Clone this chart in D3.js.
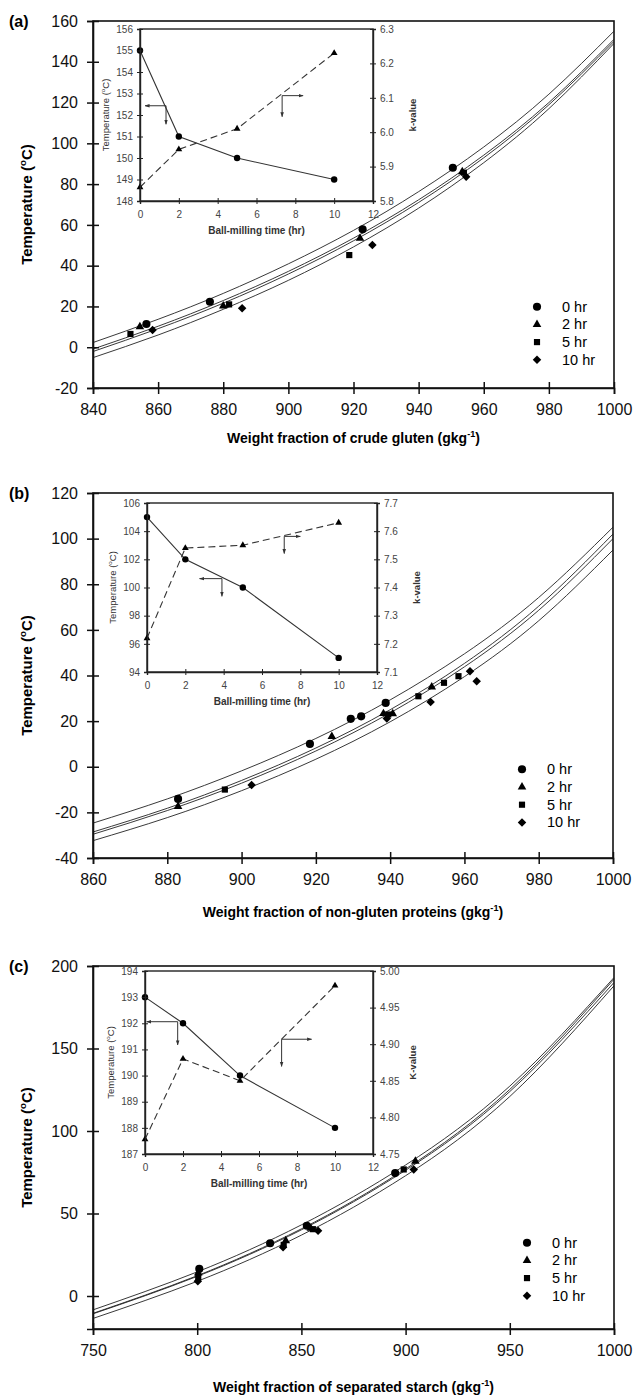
<!DOCTYPE html>
<html>
<head>
<meta charset="utf-8">
<script src="https://cdn.jsdelivr.net/npm/d3@7"></script>
<style>
body { margin: 0; background: #fff; }
text { font-family: Arial, "Liberation Sans", sans-serif; }
</style>
</head>
<body>
<div id="chart"></div>
<script>
// ---- data ----
var timeHr = [0, 2, 5, 10];
var seriesLabels = ["0 hr", "2 hr", "5 hr", "10 hr"];

// (a) crude gluten
var aInsetTemp = [155, 151, 150, 149];
var aInsetK = [5.84, 5.95, 6.01, 6.23];
var aFitX = [840, 860, 880, 900, 920, 940, 960, 980, 1000];
var aFit0 = [2.3, 13.7, 26.4, 40.9, 57.3, 76.3, 98.2, 124.1, 155];
var aFit2 = [-0.9, 10.3, 22.9, 37.2, 53.5, 72.3, 94.2, 120.0, 151];
var aFit5 = [-2.1, 9.1, 21.6, 35.9, 52.2, 71.0, 92.9, 118.9, 150];
var aFit10 = [-5.1, 6.0, 18.6, 32.8, 49.2, 68.2, 90.5, 117.0, 149];
var aPts0 = [[856.4, 11.4], [875.9, 22.3], [922.8, 57.8], [950.5, 88]];
var aPts2 = [[854.4, 10], [880, 20.2], [922, 53.4], [953.4, 86.1]];
var aPts5 = [[851.5, 6.5], [881.8, 21], [918.7, 45.2], [953.9, 85.6]];
var aPts10 = [[858.3, 8.4], [885.8, 19.1], [925.8, 50.1], [954.6, 83.6]];
var aArrowTemp = [[0.26, 152.43], [1.34, 152.43], [1.34, 151.57]];
var aArrowK = [[8.4, 152.9], [7.32, 152.9], [7.32, 151.92]];
var aTicksX = [840, 860, 880, 900, 920, 940, 960, 980, 1000];
var aTicksY = [-20, 0, 20, 40, 60, 80, 100, 120, 140, 160];
var aInsetTicksL = [148, 149, 150, 151, 152, 153, 154, 155, 156];
var aInsetTicksR = [5.8, 5.9, 6.0, 6.1, 6.2, 6.3];

// (b) non-gluten proteins
var bInsetTemp = [105, 102, 100, 95];
var bInsetK = [7.22, 7.54, 7.55, 7.63];
var bFitX = [860, 880, 900, 920, 940, 960, 980, 1000];
var bFit0 = [-24.7, -14.1, -1.8, 12.4, 29.3, 49.5, 74.2, 105];
var bFit2 = [-28.6, -18.2, -6.0, 8.2, 25.0, 45.3, 70.4, 102];
var bFit5 = [-29.6, -19.2, -7.2, 6.9, 23.6, 43.8, 68.6, 100];
var bFit10 = [-32.4, -22.3, -10.5, 3.3, 19.7, 39.5, 64.0, 95];
var bPts0 = [[882.9, -14.1], [918.4, 10], [929.4, 21], [932.2, 22.1], [938.8, 28]];
var bPts2 = [[882.9, -17.4], [924.3, 13.3], [938.2, 23.3], [940.7, 23.2], [951.2, 35]];
var bPts5 = [[895.5, -10], [939.5, 22.9], [947.6, 30.9], [954.5, 36.8], [958.4, 39.7]];
var bPts10 = [[902.7, -8], [939.1, 21.1], [950.9, 28.4], [961.5, 41.9], [963.3, 37.5]];
var bArrowTemp = [[2.74, 100.63], [3.91, 100.63], [3.91, 99.37]];
var bArrowK = [[8.0, 103.63], [7.16, 103.63], [7.16, 102.41]];
var bTicksX = [860, 880, 900, 920, 940, 960, 980, 1000];
var bTicksY = [-40, -20, 0, 20, 40, 60, 80, 100, 120];
var bInsetTicksL = [94, 96, 98, 100, 102, 104, 106];
var bInsetTicksR = [7.1, 7.2, 7.3, 7.4, 7.5, 7.6, 7.7];

// (c) separated starch
var cInsetTemp = [193, 192, 190, 188];
var cInsetK = [4.77, 4.88, 4.85, 4.98];
var cFitX = [750, 800, 850, 900, 950, 1000];
var cFit0 = [-8.4, 14.6, 43.1, 79.4, 127.2, 193];
var cFit2 = [-10.5, 12.3, 40.7, 77.0, 125.2, 192];
var cFit5 = [-10.8, 11.9, 40.1, 76.2, 123.9, 190];
var cFit10 = [-13.6, 8.9, 36.9, 72.9, 120.9, 188];
var cPts0 = [[801, 16.5], [835, 32], [852.6, 42.6], [895, 74.5]];
var cPts2 = [[800.5, 14], [842.5, 33.5], [854.5, 41], [904.7, 81.7]];
var cPts5 = [[800.5, 11.5], [841.5, 31], [855.5, 40.5], [899.1, 76.7]];
var cPts10 = [[800.3, 9], [841.2, 29.5], [858, 39.5], [903.9, 76.7]];
var cArrowTemp = [[0.09, 192.06], [1.72, 192.06], [1.72, 191.17]];
var cArrowK = [[8.77, 191.39], [7.19, 191.39], [7.19, 190.35]];
var cTicksX = [750, 800, 850, 900, 950, 1000];
var cTicksY = [0, 50, 100, 150, 200];
var cInsetTicksL = [187, 188, 189, 190, 191, 192, 193, 194];
var cInsetTicksR = [4.75, 4.80, 4.85, 4.90, 4.95, 5.00];

var insetTicksT = [0, 2, 4, 6, 8, 10, 12];

// ---- drawing ----
var svg = d3.select("#chart").append("svg")
  .attr("width", 637)
  .attr("height", 1400);

var defs = svg.append("defs");
defs.append("marker")
  .attr("id", "arr")
  .attr("viewBox", "0 0 10 10")
  .attr("refX", 9)
  .attr("refY", 5)
  .attr("markerWidth", 5)
  .attr("markerHeight", 5)
  .attr("markerUnits", "userSpaceOnUse")
  .attr("orient", "auto-start-reverse")
  .append("path")
  .attr("d", "M0,1.5 L10,5 L0,8.5 Z")
  .attr("fill", "#333");

var diamond = d3.symbolDiamond2 || d3.symbolDiamond;
var symbols = [d3.symbolCircle, d3.symbolTriangle, d3.symbolSquare, diamond];
var symbolSizes = [52, 32, 38, 46];
var plain = function(d) { return String(d); };

function crossTicks(g, horizontal, size) {
  g.selectAll(".tick line")
    .attr(horizontal ? "y1" : "x1", size)
    .attr(horizontal ? "y2" : "x2", -size);
}

function superText(sel, before, sup, after, fs) {
  sel.append("tspan").text(before);
  sel.append("tspan").attr("dy", -fs * 0.4).attr("font-size", fs * 0.65).text(sup);
  sel.append("tspan").attr("dy", fs * 0.4).text(after);
}

function drawPanel(p) {
  var x = d3.scaleLinear().domain(p.xDomain).range([p.left, p.right]);
  var y = d3.scaleLinear().domain(p.yDomain).range([p.bottom, p.top]);
  var g = svg.append("g");

  var clipId = "clip" + p.name;
  defs.append("clipPath").attr("id", clipId)
    .append("rect")
    .attr("x", p.left).attr("y", p.top)
    .attr("width", p.right - p.left).attr("height", p.bottom - p.top);

  // fitted curves
  var line = d3.line()
    .x(function(d) { return x(d[0]); })
    .y(function(d) { return y(d[1]); })
    .curve(d3.curveNatural);
  p.fits.forEach(function(f) {
    g.append("path")
      .datum(p.fitX.map(function(v, i) { return [v, f[i]]; }))
      .attr("clip-path", "url(#" + clipId + ")")
      .attr("d", line)
      .attr("fill", "none")
      .attr("stroke", "#222")
      .attr("stroke-width", 0.9);
  });

  // data points
  p.points.forEach(function(pts, i) {
    g.selectAll(null)
      .data(pts)
      .enter()
      .append("path")
      .attr("transform", function(d) { return "translate(" + x(d[0]) + "," + y(d[1]) + ")"; })
      .attr("d", d3.symbol().type(symbols[i]).size(symbolSizes[i]))
      .attr("fill", "#000");
  });

  // frame
  g.append("rect")
    .attr("x", p.left).attr("y", p.top)
    .attr("width", p.right - p.left).attr("height", p.bottom - p.top)
    .attr("fill", "none")
    .attr("stroke", "#111")
    .attr("stroke-width", 1.6);

  // axes
  var ax = g.append("g")
    .attr("transform", "translate(0," + p.bottom + ")")
    .call(d3.axisBottom(x).tickValues(p.ticksX).tickSize(6).tickPadding(10).tickFormat(plain));
  crossTicks(ax, true, 6);
  var ay = g.append("g")
    .attr("transform", "translate(" + p.left + ",0)")
    .call(d3.axisLeft(y).tickValues(p.ticksY).tickSize(6).tickPadding(9).tickFormat(plain));
  crossTicks(ay, false, 6);
  [ax, ay].forEach(function(a) {
    a.select(".domain").attr("stroke", "#111").attr("stroke-width", 1.6);
    a.selectAll(".tick line").attr("stroke", "#111").attr("stroke-width", 1.5);
    a.selectAll(".tick text").attr("font-size", 16).attr("fill", "#111")
      .attr("font-family", "Arial, 'Liberation Sans', sans-serif");
  });

  // panel label and titles
  g.append("text")
    .attr("x", 9).attr("y", p.top + 6)
    .attr("font-size", 16).attr("font-weight", "bold")
    .text(p.label);

  var yt = g.append("text")
    .attr("transform", "translate(32," + ((p.top + p.bottom) / 2) + ") rotate(-90)")
    .attr("text-anchor", "middle")
    .attr("font-size", 15).attr("font-weight", "bold");
  superText(yt, "Temperature (", "o", "C)", 15);

  var xt = g.append("text")
    .attr("x", (p.left + p.right) / 2).attr("y", p.titleY)
    .attr("text-anchor", "middle")
    .attr("font-size", 14).attr("font-weight", "bold");
  superText(xt, p.xTitle + " (gkg", "-1", ")", 14);

  // legend
  seriesLabels.forEach(function(s, i) {
    var ly = p.legendY + i * 17.7;
    g.append("path")
      .attr("transform", "translate(" + p.legendX + "," + ly + ")")
      .attr("d", d3.symbol().type(symbols[i]).size(symbolSizes[i]))
      .attr("fill", "#000");
    g.append("text")
      .attr("x", p.legendX + 25).attr("y", ly + 5)
      .attr("font-size", 14.5)
      .text(s);
  });

  // inset
  var ix = d3.scaleLinear().domain([0, 12]).range([p.inset.left, p.inset.right]);
  var iyL = d3.scaleLinear().domain(p.inset.tempDomain).range([p.inset.bottom, p.inset.top]);
  var iyR = d3.scaleLinear().domain(p.inset.kDomain).range([p.inset.bottom, p.inset.top]);
  var ig = g.append("g");
  ig.append("rect")
    .attr("x", p.inset.left).attr("y", p.inset.top)
    .attr("width", p.inset.right - p.inset.left).attr("height", p.inset.bottom - p.inset.top)
    .attr("fill", "#fff")
    .attr("stroke", "#222")
    .attr("stroke-width", 1.4);

  var tempLine = d3.line()
    .x(function(d, i) { return ix(timeHr[i]); })
    .y(function(d) { return iyL(d); });
  var kLine = d3.line()
    .x(function(d, i) { return ix(timeHr[i]); })
    .y(function(d) { return iyR(d); });
  ig.append("path").datum(p.inset.k).attr("d", kLine)
    .attr("fill", "none").attr("stroke", "#333").attr("stroke-width", 1.1)
    .attr("stroke-dasharray", "7,4");
  ig.append("path").datum(p.inset.temp).attr("d", tempLine)
    .attr("fill", "none").attr("stroke", "#333").attr("stroke-width", 1.1);
  ig.selectAll(null).data(p.inset.temp).enter().append("circle")
    .attr("cx", function(d, i) { return ix(timeHr[i]); })
    .attr("cy", function(d) { return iyL(d); })
    .attr("r", 3.2).attr("fill", "#000");
  ig.selectAll(null).data(p.inset.k).enter().append("path")
    .attr("transform", function(d, i) { return "translate(" + ix(timeHr[i]) + "," + iyR(d) + ")"; })
    .attr("d", d3.symbol().type(d3.symbolTriangle).size(20))
    .attr("fill", "#000");

  // arrows
  var arrowLine = d3.line()
    .x(function(d) { return ix(d[0]); })
    .y(function(d) { return iyL(d[1]); });
  [p.inset.arrowTemp, p.inset.arrowK].forEach(function(a) {
    ig.append("path").datum(a).attr("d", arrowLine)
      .attr("fill", "none").attr("stroke", "#333").attr("stroke-width", 1)
      .attr("marker-start", "url(#arr)").attr("marker-end", "url(#arr)");
  });

  var iax = ig.append("g")
    .attr("transform", "translate(0," + p.inset.bottom + ")")
    .call(d3.axisBottom(ix).tickValues(insetTicksT).tickSize(3).tickPadding(7).tickFormat(plain));
  crossTicks(iax, true, 3);
  var iayL = ig.append("g")
    .attr("transform", "translate(" + p.inset.left + ",0)")
    .call(d3.axisLeft(iyL).tickValues(p.inset.ticksL).tickSize(3).tickPadding(4).tickFormat(plain));
  crossTicks(iayL, false, 3);
  var iayR = ig.append("g")
    .attr("transform", "translate(" + p.inset.right + ",0)")
    .call(d3.axisRight(iyR).tickValues(p.inset.ticksR).tickSize(3).tickPadding(4).tickFormat(d3.format(p.inset.kFormat)));
  crossTicks(iayR, false, 3);
  [iax, iayL, iayR].forEach(function(a) {
    a.select(".domain").attr("stroke", "#222").attr("stroke-width", 1.4);
    a.selectAll(".tick line").attr("stroke", "#222").attr("stroke-width", 1);
    a.selectAll(".tick text").attr("font-size", 10).attr("fill", "#444")
      .attr("font-family", "Arial, 'Liberation Sans', sans-serif");
  });

  var il = ig.append("text")
    .attr("transform", "translate(" + (p.inset.left - 31) + "," + ((p.inset.top + p.inset.bottom) / 2) + ") rotate(-90)")
    .attr("text-anchor", "middle")
    .attr("font-size", 9.5).attr("fill", "#333");
  superText(il, "Temperature (", "o", "C)", 9.5);
  ig.append("text")
    .attr("transform", "translate(" + (p.inset.right + 43) + "," + ((p.inset.top + p.inset.bottom) / 2) + ") rotate(-90)")
    .attr("text-anchor", "middle")
    .attr("font-size", 9.5).attr("font-weight", "bold").attr("fill", "#333")
    .text(p.inset.kTitle);
  ig.append("text")
    .attr("x", (p.inset.left + p.inset.right) / 2).attr("y", p.inset.bottom + 33)
    .attr("text-anchor", "middle")
    .attr("font-size", 10).attr("font-weight", "bold").attr("fill", "#333")
    .text("Ball-milling time (hr)");
}

drawPanel({
  name: "a", label: "(a)", left: 93, right: 614, top: 21, bottom: 388,
  xDomain: [840, 1000], yDomain: [-20, 160],
  ticksX: aTicksX, ticksY: aTicksY,
  fitX: aFitX, fits: [aFit0, aFit2, aFit5, aFit10],
  points: [aPts0, aPts2, aPts5, aPts10],
  xTitle: "Weight fraction of crude gluten", titleY: 443,
  legendX: 537, legendY: 306.7,
  inset: {
    left: 140, right: 373, top: 29, bottom: 201,
    tempDomain: [148, 156], kDomain: [5.8, 6.3],
    temp: aInsetTemp, k: aInsetK,
    ticksL: aInsetTicksL, ticksR: aInsetTicksR, kFormat: ".1f",
    arrowTemp: aArrowTemp, arrowK: aArrowK, kTitle: "k-value"
  }
});

drawPanel({
  name: "b", label: "(b)", left: 93, right: 613, top: 493, bottom: 858,
  xDomain: [860, 1000], yDomain: [-40, 120],
  ticksX: bTicksX, ticksY: bTicksY,
  fitX: bFitX, fits: [bFit0, bFit2, bFit5, bFit10],
  points: [bPts0, bPts2, bPts5, bPts10],
  xTitle: "Weight fraction of non-gluten proteins", titleY: 917,
  legendX: 522, legendY: 769.3,
  inset: {
    left: 147, right: 377, top: 503, bottom: 672,
    tempDomain: [94, 106], kDomain: [7.1, 7.7],
    temp: bInsetTemp, k: bInsetK,
    ticksL: bInsetTicksL, ticksR: bInsetTicksR, kFormat: ".1f",
    arrowTemp: bArrowTemp, arrowK: bArrowK, kTitle: "k-value"
  }
});

drawPanel({
  name: "c", label: "(c)", left: 93, right: 614, top: 966, bottom: 1329,
  xDomain: [750, 1000], yDomain: [-20, 200],
  ticksX: cTicksX, ticksY: cTicksY,
  fitX: cFitX, fits: [cFit0, cFit2, cFit5, cFit10],
  points: [cPts0, cPts2, cPts5, cPts10],
  xTitle: "Weight fraction of separated starch", titleY: 1392,
  legendX: 527, legendY: 1242.7,
  inset: {
    left: 145, right: 373, top: 971, bottom: 1154,
    tempDomain: [187, 194], kDomain: [4.75, 5.0],
    temp: cInsetTemp, k: cInsetK,
    ticksL: cInsetTicksL, ticksR: cInsetTicksR, kFormat: ".2f",
    arrowTemp: cArrowTemp, arrowK: cArrowK, kTitle: "K-value"
  }
});
</script>
</body>
</html>
